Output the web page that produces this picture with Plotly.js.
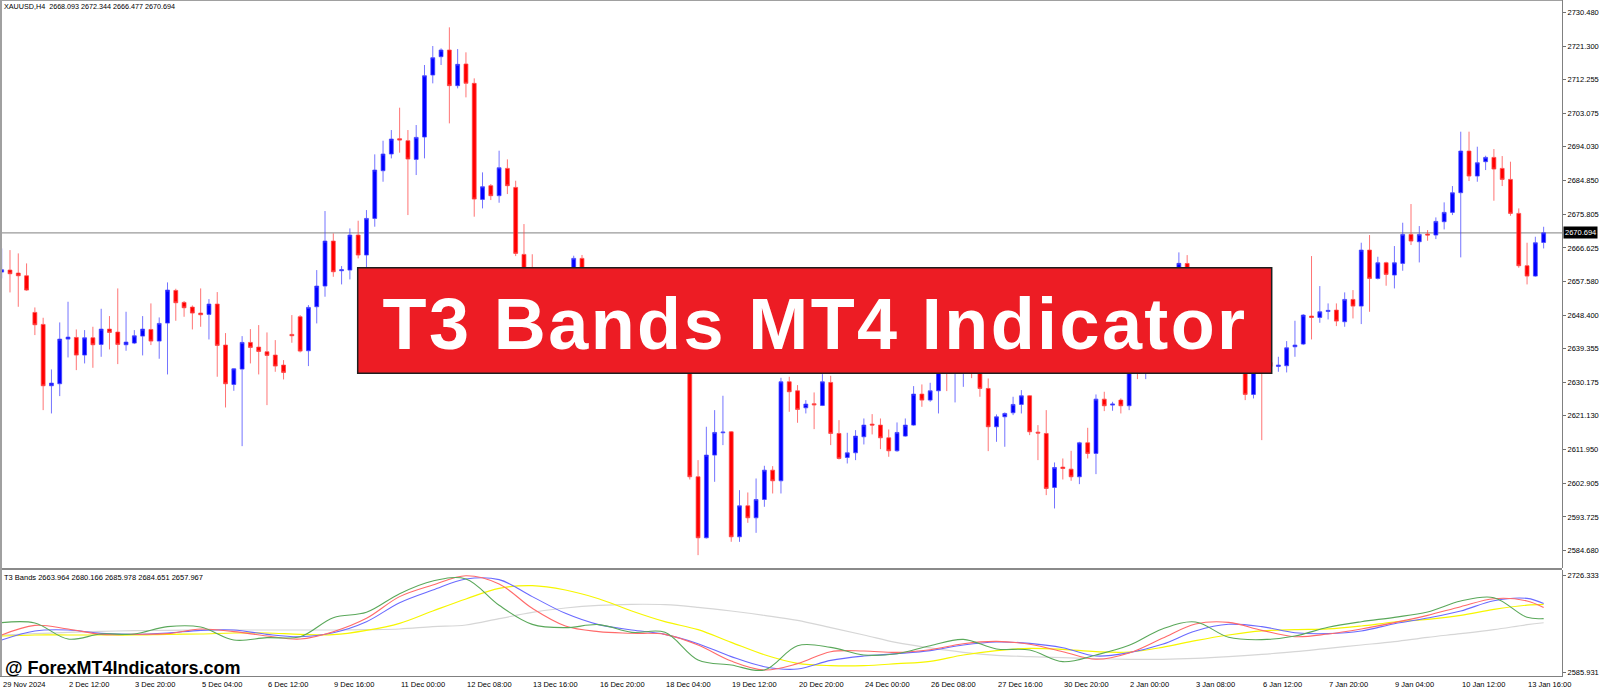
<!DOCTYPE html>
<html>
<head>
<meta charset="utf-8">
<script src="https://cdn.plot.ly/plotly-3.0.1.min.js"></script>
<style>html,body{margin:0;padding:0;background:#fff;}#chart{width:1600px;height:688px;}</style>
</head>
<body>
<div id="chart"></div>
<script>
// ---- Candles (XAUUSD H4), bar index 0..186 ----
const barIndex = Array.from({length: 187}, (_, i) => i);
const open = [
2660.07,2660.61,2659.80,2659.07,2649.14,2645.89,2629.27,2629.81,2641.91,2642.36,
2637.58,2642.27,2640.47,2644.62,2643.81,2640.38,2640.83,2642.72,2644.53,2641.37,
2646.25,2655.10,2651.85,2650.58,2648.96,2648.60,2651.40,2640.29,2629.63,2633.78,
2641.01,2639.74,2638.48,2637.58,2634.87,2643.18,2647.97,2638.75,2650.68,2656.28,
2668.47,2660.43,2660.61,2670.10,2664.68,2674.61,2687.53,2692.05,2696.20,2695.66,
2690.60,2696.65,2713.45,2718.42,2720.23,2710.57,2716.44,2711.20,2679.76,2683.47,
2680.76,2688.16,2683.01,2664.86,2650.20,2647.90,2651.20,2649.00,2654.90,2657.80,
2663.78,2651.30,2647.50,2650.60,2643.40,2640.10,2646.20,2648.70,2644.90,2647.30,
2645.10,2649.40,2646.00,2650.80,2604.61,2588.08,2610.48,2616.53,2616.80,2588.35,
2596.75,2593.50,2598.46,2606.41,2603.52,2630.35,2627.91,2623.30,2624.39,2623.94,
2630.17,2616.35,2609.84,2611.11,2615.45,2618.88,2618.61,2615.17,2611.65,2615.63,
2618.61,2627.01,2625.38,2627.91,2636.40,2633.80,2637.10,2639.80,2635.30,2628.54,
2618.16,2620.86,2621.95,2624.21,2626.56,2616.71,2616.35,2601.72,2607.23,2606.68,
2604.61,2613.82,2610.93,2625.65,2624.03,2625.38,2623.85,2640.50,2637.80,2648.60,
2655.90,2652.70,2658.60,2662.40,2652.80,2646.10,2650.40,2639.90,2637.20,2643.50,
2640.30,2626.92,2643.00,2635.60,2634.51,2634.69,2639.83,2640.56,2648.15,2647.79,
2649.41,2649.77,2646.61,2652.66,2650.85,2666.03,2658.35,2662.60,2659.26,2662.42,
2670.28,2668.29,2670.37,2670.10,2673.71,2676.24,2681.57,2692.86,2686.08,2689.97,
2691.14,2688.16,2685.18,2675.97,2661.79,2658.98,2668.093
];
const high = [
2666.48,2666.03,2665.13,2662.42,2650.49,2647.69,2633.69,2646.43,2652.03,2644.53,
2644.35,2645.25,2650.13,2648.15,2655.64,2649.32,2644.35,2648.15,2651.58,2647.78,
2657.27,2655.55,2652.21,2651.03,2655.64,2652.75,2654.65,2643.54,2634.00,2642.72,
2644.62,2645.71,2643.72,2641.64,2636.22,2648.42,2648.42,2651.13,2660.61,2676.60,
2670.55,2661.70,2671.90,2673.98,2676.87,2691.96,2695.66,2698.55,2704.60,2698.55,
2699.91,2716.17,2721.31,2720.68,2726.37,2720.50,2719.60,2712.55,2687.08,2683.92,
2692.95,2690.60,2684.82,2673.08,2664.90,2652.80,2653.90,2656.80,2660.10,2664.50,
2664.70,2654.20,2652.00,2653.50,2646.80,2648.30,2651.10,2650.50,2649.60,2650.20,
2651.60,2652.90,2653.70,2657.50,2609.12,2618.16,2622.67,2626.56,2617.00,2600.99,
2600.36,2604.15,2607.59,2607.50,2631.43,2631.70,2629.45,2625.38,2627.46,2632.43,
2631.98,2619.96,2616.53,2617.25,2620.41,2621.59,2620.41,2617.43,2619.33,2620.41,
2629.18,2629.63,2630.08,2639.80,2640.60,2638.90,2643.30,2641.00,2637.60,2631.25,
2621.50,2622.04,2626.29,2628.09,2626.70,2618.61,2622.67,2608.49,2609.57,2611.65,
2614.09,2617.88,2626.92,2627.64,2624.93,2625.83,2642.80,2644.10,2650.20,2657.80,
2659.40,2660.20,2665.40,2664.67,2656.10,2652.50,2653.20,2643.60,2645.60,2647.20,
2642.40,2645.50,2647.10,2640.30,2637.12,2641.37,2646.88,2648.69,2664.41,2656.28,
2651.58,2651.58,2654.56,2655.19,2668.02,2670.10,2664.22,2662.87,2667.12,2673.44,
2678.50,2672.53,2671.45,2674.88,2678.95,2683.37,2698.10,2698.10,2694.03,2691.59,
2693.40,2691.50,2689.97,2677.32,2668.02,2669.64,2672.344
];
const low = [
2658.35,2654.56,2650.67,2655.00,2643.00,2622.67,2621.77,2626.47,2636.94,2633.51,
2635.32,2634.14,2637.12,2639.11,2635.14,2638.75,2640.56,2637.49,2640.29,2636.58,
2632.34,2646.88,2647.96,2644.53,2645.25,2641.82,2631.71,2623.39,2627.91,2612.91,
2635.32,2632.34,2624.03,2633.06,2630.98,2640.92,2638.30,2634.60,2646.16,2653.39,
2658.80,2656.73,2658.08,2663.77,2661.06,2672.36,2684.55,2690.87,2692.41,2675.52,
2686.36,2690.87,2711.20,2716.17,2700.36,2709.84,2707.40,2675.07,2677.32,2679.58,
2678.86,2681.21,2664.40,2648.50,2645.50,2645.60,2647.10,2646.70,2652.30,2655.40,
2648.90,2645.80,2644.90,2641.20,2636.90,2638.50,2644.00,2642.60,2643.10,2643.00,
2644.20,2644.80,2645.10,2603.88,2583.38,2587.90,2603.25,2613.19,2587.00,2586.99,
2592.14,2589.43,2596.48,2600.09,2600.09,2622.22,2619.24,2621.77,2617.52,2623.76,
2613.19,2609.30,2608.22,2609.12,2613.37,2616.08,2612.10,2610.03,2611.38,2615.45,
2618.43,2623.57,2624.93,2621.77,2627.82,2624.76,2628.98,2631.34,2626.29,2611.56,
2614.09,2612.74,2621.32,2621.77,2615.90,2609.12,2599.64,2596.03,2603.88,2603.52,
2602.62,2609.57,2605.33,2622.40,2622.49,2621.77,2622.67,2631.07,2631.07,2645.30,
2650.10,2650.80,2656.10,2650.20,2644.30,2643.20,2637.50,2634.10,2635.00,2638.20,
2625.38,2625.83,2614.54,2633.40,2633.06,2632.88,2637.12,2640.29,2641.82,2646.34,
2647.24,2645.44,2645.25,2647.51,2645.98,2649.31,2658.08,2656.37,2655.64,2660.43,
2667.39,2662.69,2668.56,2669.01,2671.63,2675.52,2664.05,2684.73,2684.55,2687.71,
2679.40,2683.37,2675.33,2661.24,2656.73,2658.80,2666.477
];
const close = [
2660.70,2659.62,2659.07,2655.19,2645.80,2629.27,2629.99,2641.91,2642.45,2637.58,
2642.27,2640.38,2644.62,2643.72,2640.47,2641.10,2642.81,2644.62,2641.37,2646.16,
2655.19,2651.76,2650.40,2648.96,2648.51,2651.40,2640.20,2629.81,2633.87,2641.01,
2639.65,2638.57,2637.49,2634.60,2632.88,2642.82,2638.66,2650.50,2656.28,2668.47,
2660.16,2660.70,2670.10,2664.68,2674.61,2687.71,2692.05,2696.11,2695.84,2690.69,
2696.56,2713.27,2718.15,2720.23,2710.57,2716.35,2711.20,2679.85,2683.20,2680.76,
2688.34,2683.47,2665.13,2650.20,2647.90,2651.20,2649.00,2654.90,2657.80,2663.78,
2651.30,2647.50,2650.60,2643.40,2640.10,2646.20,2648.70,2644.90,2647.30,2645.10,
2649.40,2646.00,2650.80,2604.61,2588.08,2610.48,2616.62,2616.71,2588.35,2596.75,
2593.50,2598.46,2606.41,2603.52,2630.35,2627.64,2622.85,2624.30,2624.12,2630.35,
2616.35,2609.57,2611.11,2615.63,2618.61,2618.61,2615.17,2611.65,2616.62,2618.61,
2627.01,2625.38,2627.91,2636.40,2633.80,2637.10,2639.80,2635.30,2628.54,2618.16,
2620.86,2621.77,2624.21,2626.56,2616.80,2616.44,2601.44,2607.13,2606.86,2604.61,
2613.82,2610.93,2625.65,2623.85,2624.30,2623.85,2640.50,2637.80,2648.60,2655.90,
2652.70,2658.60,2662.43,2652.80,2646.10,2650.40,2639.90,2637.20,2643.50,2640.30,
2626.93,2643.00,2635.60,2634.50,2634.87,2639.56,2640.29,2648.42,2647.79,2649.32,
2649.68,2646.79,2652.66,2650.85,2666.03,2658.35,2662.60,2659.44,2662.60,2670.28,
2668.47,2670.28,2670.10,2673.80,2676.24,2681.57,2692.86,2686.08,2689.70,2691.14,
2687.98,2685.18,2675.97,2661.79,2658.98,2668.02,2670.694
];

// ---- T3 Bands sub-window lines (sampled at bar indices) ----
const lineIdx = [0,4,8,12,16,20,24,28,32,36,40,44,48,52,56,60,64,68,72,76,80,84,88,92,96,
  100,104,108,112,116,120,124,128,132,136,140,144,148,152,156,160,164,168,172,176,180,184,186];
const t3Green = [2658.07,2657.58,2634.33,2641.6,2641.6,2652.25,2651.77,2632.9,2636.3,2637.7,2665.3,2673.1,2700.2,2718.6,2721.5,2683.3,2655.6,2650.8,2655.2,2644.0,2644.0,2603.8,2596.5,2589.3,2624.6,
  2622.2,2611.1,2613.0,2624.6,2633.8,2619.8,2618.3,2601.4,2611.1,2625.1,2648.9,2659.0,2636.8,2633.4,2638.7,2651.3,2659.5,2665.8,2673.6,2689.6,2694.4,2665.8,2663.964];
const t3Red = [2640.14,2654.2,2648.86,2641.1,2641.1,2642.08,2648.86,2644.99,2638.7,2634.3,2645.0,2664.4,2695.9,2712.8,2726.3,2714.3,2678.9,2653.2,2645.0,2642.6,2641.1,2625.6,2602.3,2589.3,2598.5,
  2615.9,2616.9,2614.9,2618.8,2627.5,2630.9,2626.6,2615.9,2604.8,2614.0,2635.3,2656.1,2658.5,2646.9,2637.7,2641.6,2648.9,2658.1,2668.7,2681.3,2692.9,2689.6,2680.166];
const t3Blue = [2632.87,2645.95,2647.41,2642.56,2641.1,2643.05,2646.9,2647.4,2641.1,2637.7,2643.5,2659.5,2687.1,2705.5,2721.5,2720.6,2695.9,2671.6,2655.2,2647.4,2641.1,2627.5,2608.7,2594.1,2590.7,
  2603.3,2609.6,2613.0,2617.4,2625.6,2630.0,2628.0,2621.7,2609.6,2614.5,2626.6,2646.0,2655.7,2652.3,2643.5,2642.1,2646.0,2656.6,2664.9,2675.0,2690.0,2693.4,2685.978];
const t3Yellow = [2638.69,2640.14,2640.14,2640.14,2640.14,2641.1,2641.6,2643.05,2643.05,2641.1,2640.6,2646.9,2657.1,2675.0,2692.5,2707.9,2711.85,2705.5,2692.9,2675.0,2659.5,2647.9,2629.5,2611.5,2599.0,
  2595.6,2595.6,2598.5,2601.9,2611.1,2617.4,2620.8,2619.3,2615.9,2615.4,2622.2,2631.9,2640.1,2646.0,2647.9,2648.9,2653.2,2659.0,2662.9,2668.7,2677.4,2683.5,2684.651];
const t3Gray = [2640.14,2642.08,2644.02,2645.47,2646.44,2646.92,2647.41,2647.41,2647.41,2647.41,2647.41,2647.89,2648.86,2652.25,2654.67,2663.88,2673.09,2679.39,2683.26,2684.72,2684.23,2680.35,2675.02,2668.72,2661.46,
  2650.8,2640.1,2629.0,2621.3,2614.9,2610.6,2608.7,2607.2,2605.7,2604.8,2604.8,2606.2,2608.7,2612.0,2615.9,2620.8,2625.6,2630.5,2636.8,2642.1,2647.9,2655.2,2657.967];

// ---- Axis labels ----
const priceTicks = [2730.480,2721.300,2712.255,2703.075,2694.030,2684.850,2675.805,2666.625,2657.580,2648.400,2639.355,2630.175,2621.130,2611.950,2602.905,2593.725,2584.680];
const subTicks = [2726.333, 2585.931];
const dateLabels = ['29 Nov 2024','2 Dec 12:00','3 Dec 20:00','5 Dec 04:00','6 Dec 12:00','9 Dec 16:00','11 Dec 00:00','12 Dec 08:00','13 Dec 16:00','16 Dec 20:00','18 Dec 04:00','19 Dec 12:00','20 Dec 20:00','24 Dec 00:00','26 Dec 08:00','27 Dec 16:00','30 Dec 20:00','2 Jan 00:00','3 Jan 08:00','6 Jan 12:00','7 Jan 20:00','9 Jan 04:00','10 Jan 12:00','13 Jan 16:00'];
const dateBars = [0,8,16,24,32,40,48,56,64,72,80,88,96,104,112,120,128,136,144,152,160,168,176,184];
const lastPrice = 2670.694;
const headerText = 'XAUUSD,H4\u00a0\u00a02668.093 2672.344 2666.477 2670.694';
const t3Header = 'T3 Bands 2663.964 2680.166 2685.978 2684.651 2657.967';

// ---- Layout geometry ----
const W = 1600, H = 688;
const px = v => v / W;
const py = v => 1 - v / H;
const xRight = 1562;
const smallFont = {family: 'Liberation Sans, Arial, sans-serif', size: 7.5, color: '#000'};

const traces = [
  {
    type: 'candlestick', x: barIndex, open: open, high: high, low: low, close: close,
    xaxis: 'x', yaxis: 'y', whiskerwidth: 0, hoverinfo: 'skip',
    increasing: {line: {color: 'rgba(70,70,255,0.75)', width: 1}, fillcolor: '#0000ff'},
    decreasing: {line: {color: 'rgba(255,70,70,0.75)', width: 1}, fillcolor: '#ff0000'}
  },
  {type:'scatter', mode:'lines', x: lineIdx, y: t3Gray, xaxis:'x2', yaxis:'y2', line:{color:'#d6d6d6', width:1.2, shape:'spline', smoothing:1}, hoverinfo:'skip'},
  {type:'scatter', mode:'lines', x: lineIdx, y: t3Yellow, xaxis:'x2', yaxis:'y2', line:{color:'#f6f600', width:1.2, shape:'spline', smoothing:1}, hoverinfo:'skip'},
  {type:'scatter', mode:'lines', x: lineIdx, y: t3Blue, xaxis:'x2', yaxis:'y2', line:{color:'#6a6aff', width:1.1, shape:'spline', smoothing:1}, hoverinfo:'skip'},
  {type:'scatter', mode:'lines', x: lineIdx, y: t3Red, xaxis:'x2', yaxis:'y2', line:{color:'#ff6a6a', width:1.1, shape:'spline', smoothing:1}, hoverinfo:'skip'},
  {type:'scatter', mode:'lines', x: lineIdx, y: t3Green, xaxis:'x2', yaxis:'y2', line:{color:'#5aa85a', width:1.1, shape:'spline', smoothing:1}, hoverinfo:'skip'}
];

const xRange = [-1.7 / 8.29, (xRight - 1.7) / 8.29];

const annotations = [
  {xref:'paper', yref:'paper', x: px(2), y: py(6.5), xanchor:'left', yanchor:'middle', text: headerText, showarrow:false,
   font: {family: smallFont.family, size: 7.2, color: '#000'}},
  {xref:'paper', yref:'paper', x: px(2), y: py(577.5), xanchor:'left', yanchor:'middle', text: t3Header, showarrow:false, font: smallFont},
  {xref:'paper', yref:'y', x: px(1563), y: lastPrice, xanchor:'left', yanchor:'middle', text: '2670.694', showarrow:false,
   bgcolor:'#000', borderpad:1, font:{family: smallFont.family, size: 7.5, color:'#fff'}},
  {xref:'paper', yref:'paper', x: px(815), y: py(324), xanchor:'center', yanchor:'middle', text:'<b>T3 Bands MT4 Indicator</b>', showarrow:false,
   font:{family:'Liberation Sans, Arial, sans-serif', size:72, color:'#ffffff'}},
  {xref:'paper', yref:'paper', x: px(2.5), y: py(667.5), xanchor:'left', yanchor:'middle', text:'<b>@ ForexMT4Indicators.com</b>', showarrow:false,
   font:{family:'Liberation Sans, Arial, sans-serif', size:18, color:'#000'}}
];
dateLabels.forEach((t, k) => {
  annotations.push({xref:'x2', yref:'paper', x: dateBars[k], y: py(684), xanchor:'left', yanchor:'middle', text: t, showarrow:false, font: smallFont, borderpad:0});
});

const shapes = [
  {type:'line', xref:'paper', yref:'y', x0:0, x1:px(xRight), y0:lastPrice, y1:lastPrice, line:{color:'#9a9a9a', width:1.2}, layer:'below'},
  {type:'line', xref:'paper', yref:'paper', x0:0, x1:px(xRight), y0:py(569), y1:py(569), line:{color:'#8a8a8a', width:2}},
  {type:'line', xref:'paper', yref:'paper', x0:px(1), x1:px(1), y0:py(676), y1:1, line:{color:'#a0a0a0', width:2}},
  {type:'line', xref:'paper', yref:'paper', x0:0, x1:px(xRight), y0:py(0.5), y1:py(0.5), line:{color:'#a0a0a0', width:1}},
  {type:'rect', xref:'paper', yref:'paper', x0:px(357.7), x1:px(1271.7), y0:py(373.3), y1:py(267.7), fillcolor:'#ED1C24', line:{color:'#1e1e1e', width:1.5}, layer:'above'}
];

const axisCommon = {showgrid:false, zeroline:false, fixedrange:true};
const layout = {
  width: W, height: H, margin:{l:0, r:0, t:0, b:0, pad:0},
  paper_bgcolor:'#ffffff', plot_bgcolor:'#ffffff', showlegend:false, hovermode:false,
  boxgap: 0.33,
  xaxis: Object.assign({}, axisCommon, {domain:[0, px(xRight)], range:xRange, anchor:'y', showticklabels:false, ticks:'', showline:false, rangeslider:{visible:false}}),
  xaxis2: Object.assign({}, axisCommon, {domain:[0, px(xRight)], range:xRange, anchor:'y2', showticklabels:false, ticks:'', showline:true, linecolor:'#808080', linewidth:1}),
  yaxis: Object.assign({}, axisCommon, {domain:[py(568), 1], range:[2579.9, 2733.78], anchor:'x', side:'right',
    tickmode:'array', tickvals: priceTicks, ticktext: priceTicks.map(v => v.toFixed(3)),
    ticks:'outside', ticklen:3, tickcolor:'#707070', tickfont: smallFont, showline:true, linecolor:'#808080', linewidth:1}),
  yaxis2: Object.assign({}, axisCommon, {domain:[py(676), py(570)], range:[2580.55, 2734.61], anchor:'x2', side:'right',
    tickmode:'array', tickvals: subTicks, ticktext: subTicks.map(v => v.toFixed(3)),
    ticks:'outside', ticklen:3, tickcolor:'#707070', tickfont: smallFont, showline:true, linecolor:'#808080', linewidth:1}),
  annotations: annotations,
  shapes: shapes
};

Plotly.newPlot('chart', traces, layout, {staticPlot:true, displayModeBar:false}).then(() => {
  document.querySelectorAll('.annotation-text').forEach(t => {
    if (t.textContent === 'T3 Bands MT4 Indicator') t.style.letterSpacing = '2.4px';
  });
});
</script>
</body>
</html>
